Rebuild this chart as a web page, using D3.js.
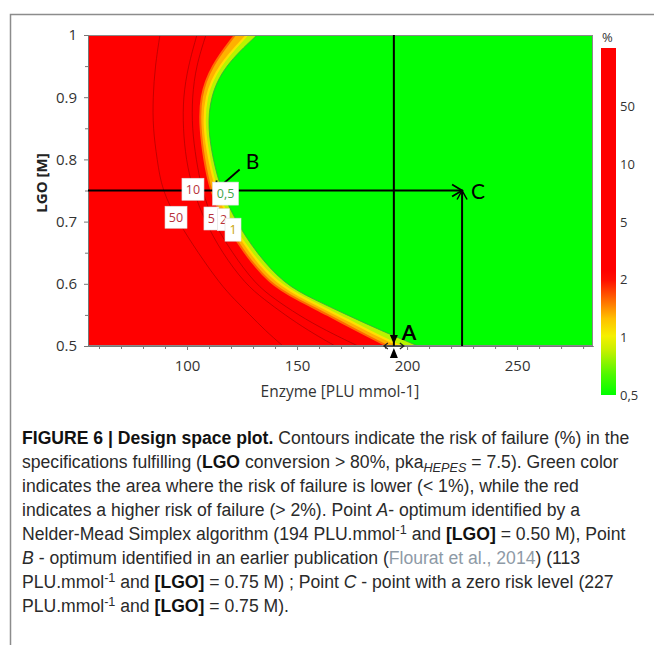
<!DOCTYPE html>
<html><head><meta charset="utf-8">
<script src="https://cdn.jsdelivr.net/npm/d3@7"></script>
<style>body{margin:0;background:#fff} svg{display:block}</style>
</head><body>
<svg id="c" width="654" height="645"></svg>
<script>
// ---------- data ----------
const lgoLevels = [0.50,0.525,0.55,0.575,0.60,0.65,0.70,0.75,0.80,0.85,0.90,0.95,1.00];
// enzyme value (PLU mmol-1) of each risk contour at each LGO level
const risk50 = [143.6,135.5,128.6,121.5,115.0,105.0,95.9,88.6,86.4,84.5,84.5,85.5,87.7];
const risk10 = [167.3,155.0,144.5,135.0,126.4,115.9,108.2,102.7,99.5,98.2,98.2,100.5,104.5];
const risk5  = [177.7,163.0,150.5,140.0,130.9,120.5,111.8,106.8,104.1,102.3,102.3,104.1,108.6];
const risk2  = [191.0,177.0,164.1,150.0,137.5,125.9,116.8,110.5,107.7,105.9,105.9,110.9,121.8];
const risk1  = [197.0,182.0,168.6,154.0,141.0,128.6,119.5,113.2,110.0,107.7,108.2,114.1,127.3];
const risk05 = [205.0,188.0,172.7,157.5,144.0,131.4,122.3,115.5,111.8,109.5,110.5,116.8,131.8];
const contourLabels = ["50","10","0,5","5","2","1"];
const contourLabelEnzyme = [95.0,102.7,117.5,111.1,116.6,120.9];
const contourLabelLgo = [0.707,0.752,0.745,0.705,0.703,0.687];
const xDomain = [55, 284.5];
const yDomain = [0.5, 1.0];
const xTicks = [100,150,200,250];
const xMinorTicks = [60,70,80,90,110,120,130,140,160,170,180,190,210,220,230,240,260,270,280];
const yTicks = [0.5,0.6,0.7,0.8,0.9,1.0];
const yTickLabels = ["0.5","0.6","0.7","0.8","0.9","1"];
const yMinorTicks = [0.55,0.65,0.75,0.85,0.95];
const colorbarLabels = ["0,5","1","2","5","10","50"];
const pointNames = ["A","B","C"];
const pointEnzyme = [194, 113, 225];
const pointLgo = [0.50, 0.75, 0.75];

// ---------- setup ----------
const svg = d3.select("#c");
const W = 654, H = 645;
const plot = {left:88, right:593, top:35, bottom:346};
const x = d3.scaleLinear().domain(xDomain).range([plot.left, plot.right]);
const y = d3.scaleLinear().domain(yDomain).range([plot.bottom, plot.top]);
const tickFont = "'Open Sans', sans-serif";

// figure frame (left + top)
svg.append("path").attr("d",`M10.5,${H} V14.5 H${W}`)
  .attr("fill","none").attr("stroke","#8c8c8c").attr("stroke-width",1.5);

const defs = svg.append("defs");
defs.append("clipPath").attr("id","clip").append("rect")
  .attr("x",plot.left).attr("y",plot.top)
  .attr("width",plot.right-plot.left).attr("height",plot.bottom-plot.top);

const g = svg.append("g").attr("clip-path","url(#clip)");
g.append("rect").attr("x",plot.left).attr("y",plot.top)
  .attr("width",plot.right-plot.left).attr("height",plot.bottom-plot.top)
  .attr("fill","#00ff00");

const pts = arr => arr.map((e,i)=>[e, lgoLevels[i]]);
const area = d3.area().curve(d3.curveBasis)
  .y(d=>y(d[1])).x0(plot.left-5).x1(d=>x(d[0]));
const line = d3.line().curve(d3.curveBasis).x(d=>x(d[0])).y(d=>y(d[1]));

const bands = [
  {vals:risk05, fill:"#b8f400"},
  {vals:risk1,  fill:"#ffb000"},
  {vals:risk2,  fill:"#ff0000"}
];
bands.forEach(b=>{
  g.append("path").datum(pts(b.vals)).attr("d",area).attr("fill",b.fill);
});
// transitional thin lines
g.append("path").datum(pts(risk1)).attr("d",line).attr("fill","none")
  .attr("stroke","#ffe000").attr("stroke-width",2.2);
g.append("path").datum(pts(risk2)).attr("d",line).attr("fill","none")
  .attr("stroke","#ff6a00").attr("stroke-width",2);
g.append("path").datum(pts(risk05)).attr("d",line).attr("fill","none")
  .attr("stroke","#3aa83a").attr("stroke-width",0.8);
[risk50, risk10, risk5].forEach(v=>{
  g.append("path").datum(pts(v)).attr("d",line).attr("fill","none")
    .attr("stroke","#a00000").attr("stroke-width",0.8).attr("opacity",0.8);
});

// plot border
svg.append("rect").attr("x",plot.left+0.5).attr("y",plot.top+0.5)
  .attr("width",plot.right-plot.left-1).attr("height",plot.bottom-plot.top-1)
  .attr("fill","none").attr("stroke","#8a8a8a").attr("stroke-width",1);

// axes
const axisColor = "#777";
const xAxis = svg.append("g").attr("transform",`translate(0,${plot.bottom})`)
  .call(d3.axisBottom(x).tickValues(xTicks).tickSize(4).tickPadding(10).tickSizeOuter(0));
const xMinor = svg.append("g").attr("transform",`translate(0,${plot.bottom})`)
  .call(d3.axisBottom(x).tickValues(xMinorTicks).tickSize(3).tickFormat("").tickSizeOuter(0));
const yAxis = svg.append("g").attr("transform",`translate(${plot.left},0)`)
  .call(d3.axisLeft(y).tickValues(yTicks).tickSize(4).tickPadding(7).tickSizeOuter(0)
    .tickFormat((d,i)=>yTickLabels[i]));
const yMinor = svg.append("g").attr("transform",`translate(${plot.left},0)`)
  .call(d3.axisLeft(y).tickValues(yMinorTicks).tickSize(3).tickFormat("").tickSizeOuter(0));
[xAxis,xMinor,yAxis,yMinor].forEach(a=>{
  a.select(".domain").attr("stroke",axisColor);
  a.selectAll(".tick line").attr("stroke",axisColor);
  a.selectAll(".tick text").attr("font-family",tickFont).attr("font-size",15).attr("fill","#333");
});

// axis titles
svg.append("text").attr("x",340).attr("y",397).attr("text-anchor","middle")
  .attr("font-family",tickFont).attr("font-size",15.5).attr("fill","#333")
  .text("Enzyme [PLU mmol-1]");
svg.append("text").attr("transform","translate(47,183) rotate(-90)").attr("text-anchor","middle")
  .attr("font-family",tickFont).attr("font-size",15).attr("font-weight","bold").attr("fill","#222")
  .text("LGO [M]");

// reference lines & points
const pA = {x:x(pointEnzyme[0]), y:y(pointLgo[0])};
const pB = {x:x(pointEnzyme[1]), y:y(pointLgo[1])};
const pC = {x:x(pointEnzyme[2]), y:y(pointLgo[2])};
const ink = "#000";
svg.append("line").attr("x1",pA.x).attr("x2",pA.x).attr("y1",plot.top).attr("y2",plot.bottom)
  .attr("stroke",ink).attr("stroke-width",2);
svg.append("line").attr("x1",plot.left).attr("x2",pC.x).attr("y1",pC.y).attr("y2",pC.y)
  .attr("stroke",ink).attr("stroke-width",2);
svg.append("line").attr("x1",pC.x).attr("x2",pC.x).attr("y1",plot.bottom).attr("y2",pC.y)
  .attr("stroke",ink).attr("stroke-width",2);
svg.append("path").attr("d",`M${pC.x-10},${pC.y-6} L${pC.x},${pC.y} L${pC.x-10},${pC.y+6}`)
  .attr("fill","none").attr("stroke",ink).attr("stroke-width",1.8);
svg.append("path").attr("d",`M${pC.x-5},${pC.y+9} L${pC.x},${pC.y} L${pC.x+5},${pC.y+9}`)
  .attr("fill","none").attr("stroke",ink).attr("stroke-width",1.5);
svg.append("line").attr("x1",pB.x+24).attr("y1",pB.y-21).attr("x2",pB.x+1).attr("y2",pB.y-1)
  .attr("stroke",ink).attr("stroke-width",1.8);
svg.append("path").attr("d",`M${pB.x+1},${pB.y-10} L${pB.x},${pB.y} L${pB.x+10},${pB.y-1}`)
  .attr("fill","none").attr("stroke",ink).attr("stroke-width",1.8);
svg.append("path").attr("d",`M${pA.x-4},${pA.y-11} L${pA.x+4},${pA.y-11} L${pA.x},${pA.y-2} Z`).attr("fill",ink);
svg.append("path").attr("d",`M${pA.x-4},${pA.y+12} L${pA.x+4},${pA.y+12} L${pA.x},${pA.y+2} Z`).attr("fill",ink);
svg.append("path").attr("d",`M${pA.x-10},${pA.y} H${pA.x+10} M${pA.x-6},${pA.y-3} L${pA.x-10},${pA.y} L${pA.x-6},${pA.y+3} M${pA.x+6},${pA.y-3} L${pA.x+10},${pA.y} L${pA.x+6},${pA.y+3}`)
  .attr("fill","none").attr("stroke","#222").attr("stroke-width",1.2);

const letterFont = "Lato, 'Open Sans', sans-serif";
svg.append("text").attr("x",pA.x+8).attr("y",pA.y-6).attr("font-family",letterFont)
  .attr("font-size",21).attr("font-weight","bold").attr("fill",ink).text(pointNames[0]);
svg.append("text").attr("x",pB.x+30).attr("y",pB.y-22).attr("font-family",letterFont)
  .attr("font-size",21).attr("fill",ink).text(pointNames[1]);
svg.append("text").attr("x",pC.x+9).attr("y",pC.y+8).attr("font-family",letterFont)
  .attr("font-size",21).attr("fill",ink).text(pointNames[2]);

// contour labels
const labelBox = {"50":[22,22],"10":[22,22],"0,5":[26,23],"5":[15,23],"2":[12,22],"1":[16,23]};
const labelColor = {"50":"#b8313a","10":"#b8313a","0,5":"#3fa64a","5":"#b8313a","2":"#b8313a","1":"#c9a400"};
contourLabels.forEach((t,i)=>{
  const cx = x(contourLabelEnzyme[i]), cy = y(contourLabelLgo[i]);
  const [bw,bh] = labelBox[t];
  svg.append("rect").attr("x",cx-bw/2).attr("y",cy-bh/2).attr("width",bw).attr("height",bh)
    .attr("fill","#fff").attr("stroke","#ddd").attr("stroke-width",0.6);
  svg.append("text").attr("x",cx).attr("y",cy+4.5).attr("text-anchor","middle")
    .attr("font-family",tickFont).attr("font-size",12.5).attr("fill",labelColor[t]).text(t);
});

// colorbar
const cb = {x:601, w:15, top:48, bottom:395};
const cbScale = d3.scaleLinear().domain([0,6]).range([cb.bottom, cb.top]);
const grad = defs.append("linearGradient").attr("id","cbgrad")
  .attr("x1",0).attr("y1",1).attr("x2",0).attr("y2",0);
[[0,"#00ff00"],[0.06,"#50f800"],[0.13,"#c8f000"],[0.17,"#f5f000"],[0.22,"#ffc000"],[0.28,"#ff6000"],[0.33,"#ff1000"],[0.36,"#ff0000"],[1,"#ff0000"]]
  .forEach(s=>grad.append("stop").attr("offset",s[0]).attr("stop-color",s[1]));
svg.append("rect").attr("x",cb.x).attr("y",cb.top).attr("width",cb.w).attr("height",cb.bottom-cb.top)
  .attr("fill","url(#cbgrad)");
colorbarLabels.forEach((t,i)=>{
  svg.append("text").attr("x",cb.x+19).attr("y",cbScale(i)+5)
    .attr("font-family",tickFont).attr("font-size",13).attr("fill","#333").text(t);
});
svg.append("text").attr("x",cb.x+1).attr("y",42).attr("font-family",tickFont)
  .attr("font-size",13).attr("fill","#333").text("%");

// caption
const capFont = "'Liberation Sans', Arial, sans-serif";
const capLines = [
  [{t:"FIGURE 6 | Design space plot.",b:1},{t:" Contours indicate the risk of failure (%) in the"}],
  [{t:"specifications fulfilling ("},{t:"LGO",b:1},{t:" conversion > 80%, pka"},{t:"HEPES",i:1,sub:1},{t:" = 7.5). Green color"}],
  [{t:"indicates the area where the risk of failure is lower (< 1%), while the red"}],
  [{t:"indicates a higher risk of failure (> 2%). Point "},{t:"A",i:1},{t:"- optimum identified by a"}],
  [{t:"Nelder-Mead Simplex algorithm (194 PLU.mmol"},{t:"-1",sup:1},{t:" and "},{t:"[LGO]",b:1},{t:" = 0.50 M), Point"}],
  [{t:"B",i:1},{t:" - optimum identified in an earlier publication ("},{t:"Flourat et al., 2014",link:1},{t:") (113"}],
  [{t:"PLU.mmol"},{t:"-1",sup:1},{t:" and "},{t:"[LGO]",b:1},{t:" = 0.75 M) ; Point "},{t:"C",i:1},{t:" - point with a zero risk level (227"}],
  [{t:"PLU.mmol"},{t:"-1",sup:1},{t:" and "},{t:"[LGO]",b:1},{t:" = 0.75 M)."}]
];
const capSize = 17.6;
capLines.forEach((segs,li)=>{
  const tx = svg.append("text").attr("x",22).attr("y",444+li*24)
    .attr("font-family",capFont).attr("font-size",capSize).attr("fill","#2a2a2a");
  let shift = 0;
  segs.forEach(s=>{
    const ts = tx.append("tspan").text(s.t);
    let target = 0;
    if (s.sup) target = -6; else if (s.sub) target = 4;
    if (target !== shift) { ts.attr("dy", target - shift); shift = target; }
    if (s.sup || s.sub) ts.attr("font-size", capSize*0.72);
    if (s.b) ts.attr("font-weight","bold").attr("fill","#111");
    if (s.i) ts.attr("font-style","italic");
    if (s.link) ts.attr("fill","#8e9aa6");
  });
});
</script>
</body></html>
